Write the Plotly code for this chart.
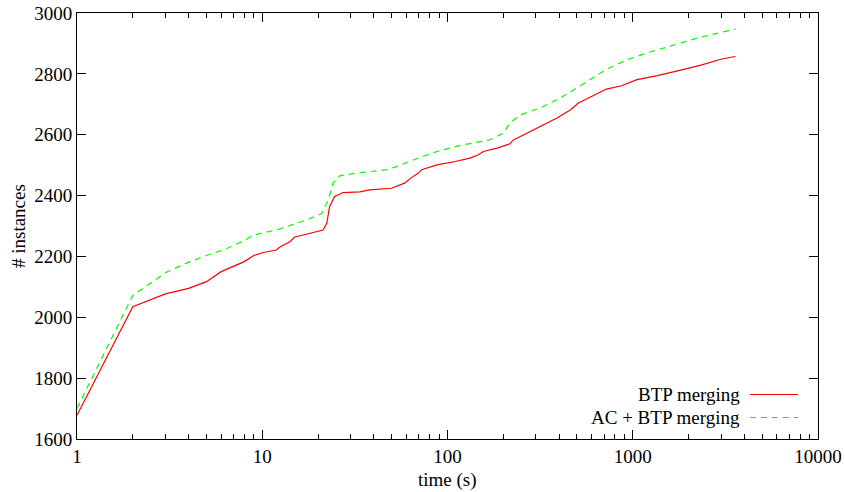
import plotly.graph_objects as go

# BTP merging (red, solid)
t_btp = [1, 2, 3, 4, 5, 6, 8, 9, 10, 11.9, 12.4, 14.1, 14.9, 18, 21.3, 22.3, 23.1, 24.6,
         27.3, 33.6, 38, 49.9, 58.6, 63.9, 69.6, 72.5, 87.7, 110, 132, 147, 156, 185,
         217, 227, 267, 328, 390, 462, 509, 722, 870, 1053, 1358, 1745, 2310, 2985, 3580]
n_btp = [1678, 2035, 2077, 2095, 2117, 2150, 2183, 2203, 2212, 2221, 2230, 2248, 2263, 2275,
         2287, 2309, 2364, 2397, 2410, 2412, 2419, 2424, 2441, 2459, 2474, 2485, 2501, 2512,
         2523, 2534, 2545, 2556, 2570, 2583, 2605, 2633, 2655, 2682, 2704, 2750, 2761, 2781,
         2794, 2810, 2828, 2848, 2857]

# AC + BTP merging (green, dashed)
t_ac = [1, 2, 3.03, 3.9, 5, 6.2, 7.9, 8.94, 12.4, 15.9, 17.3, 20.9, 22.7, 24.1, 26.2, 32.3,
        46.9, 53.1, 65.3, 87.7, 117, 169, 200, 217, 246, 316, 404, 509, 722, 928, 1240,
        1745, 2240, 2985, 3580]
n_ac = [1701, 2072, 2148, 2178, 2203, 2222, 2250, 2270, 2290, 2312, 2320, 2340, 2386, 2441,
        2465, 2474, 2485, 2495, 2517, 2545, 2565, 2583, 2605, 2638, 2665, 2688, 2720, 2757,
        2815, 2846, 2872, 2898, 2918, 2936, 2947]

x_tickvals = [1, 10, 100, 1000, 10000]
x_ticktext = ["1", "10", "100", "1000", "10000"]
series_names = ["BTP merging", "AC + BTP merging"]
series_colors = ["#ff0000", "#00ff00"]
x_title = "time (s)"
y_title = "# instances"

FONT = "Liberation Serif, Times New Roman, serif"
FS = 19

fig = go.Figure()
fig.add_trace(go.Scatter(x=t_btp, y=n_btp, mode="lines", name=series_names[0],
                         line=dict(color=series_colors[0], width=1.2)))
fig.add_trace(go.Scatter(x=t_ac, y=n_ac, mode="lines", name=series_names[1],
                         line=dict(color=series_colors[1], width=1.2, dash="6px,5px")))

fig.update_layout(
    width=845, height=492,
    margin=dict(l=77, r=27, t=13, b=53),
    paper_bgcolor="white", plot_bgcolor="white",
    showlegend=False,
    font=dict(family=FONT, size=FS, color="black"),
)

fig.update_xaxes(
    type="log", range=[0, 4], automargin=False,
    tickvals=x_tickvals, ticktext=x_ticktext,
    ticks="inside", ticklen=9, tickcolor="black", tickwidth=1,
    minor=dict(ticks="inside", ticklen=5, tickcolor="black", dtick="D1"),
    showline=True, linecolor="black", linewidth=1, mirror="allticks",
    showgrid=False, zeroline=False,
)
fig.update_yaxes(
    range=[1600, 3000], dtick=200, automargin=False,
    ticks="inside", ticklen=9, tickcolor="black", tickwidth=1,
    showline=True, linecolor="black", linewidth=1, mirror="allticks",
    showgrid=False, zeroline=False,
)

# axis titles
fig.add_annotation(x=0.5, y=-0.0962, xref="paper", yref="paper", text=x_title,
                   showarrow=False, xanchor="center", yanchor="middle",
                   font=dict(family=FONT, size=FS, color="black"))
fig.add_annotation(x=-0.0796, y=0.5, xref="paper", yref="paper", text=y_title,
                   showarrow=False, xanchor="center", yanchor="middle", textangle=-90,
                   font=dict(family=FONT, size=FS, color="black"))

# gnuplot-style key: text right-aligned, then line sample
key_rows = [0.1045, 0.0505]
for name, color, yy, dash in zip(series_names, series_colors, key_rows, ["solid", "6px,5px"]):
    fig.add_annotation(x=0.897, y=yy, xref="paper", yref="paper", text=name,
                       showarrow=False, xanchor="right", yanchor="middle",
                       font=dict(family=FONT, size=FS, color="black"))
    fig.add_shape(type="line", xref="paper", yref="paper", x0=0.908, x1=0.973, y0=yy, y1=yy,
                  line=dict(color=color, width=1.2, dash=dash))

fig.write_html("out.html", config={"displayModeBar": False},
               post_script="document.body.style.margin='0';")
